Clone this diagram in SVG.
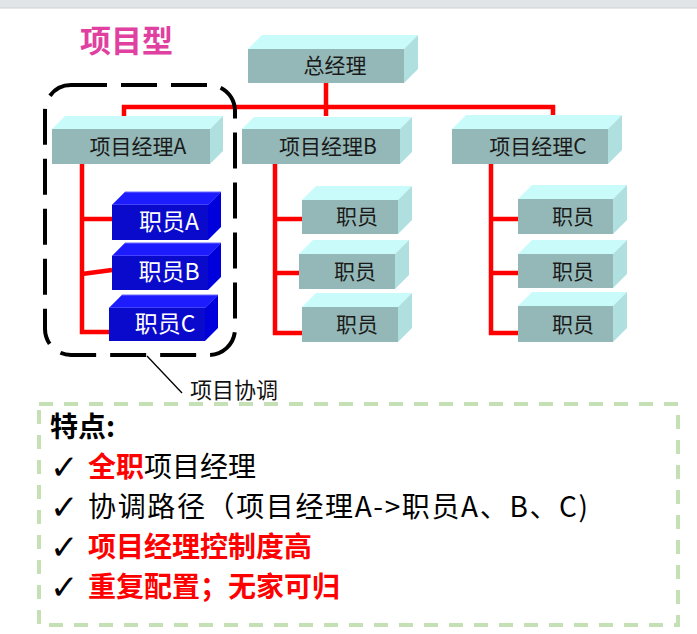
<svg xmlns="http://www.w3.org/2000/svg" width="697" height="634" viewBox="0 0 697 634">
<style>
.gf{fill:#94b8b7}.gt{fill:#c9fbfb}.gs{fill:#afdfdf}
.bf{fill:#0a0acc}.bt{fill:#1c1cff;stroke:#6a6aff;stroke-width:1}.bs{fill:#0000dd}
.bx{font-family:"Noto Sans CJK SC","Liberation Sans",sans-serif;font-size:21px;fill:#1a1a1a;text-anchor:middle}
.wx{font-family:"Noto Sans CJK SC","Liberation Sans",sans-serif;font-size:23px;fill:#ffffff;text-anchor:middle}
.red{fill:none;stroke:#ff0000;stroke-width:4.5;stroke-linejoin:miter}
.ln{font-family:"Noto Sans CJK SC","Liberation Sans",sans-serif;font-size:28px;fill:#000}
.ck{font-family:"DejaVu Sans",sans-serif;font-size:34px;font-weight:bold;fill:#000}
.rb{fill:#ff0000;font-weight:bold}
</style>
<rect x="0" y="0" width="697" height="634" fill="#ffffff"/>
<rect x="0" y="0" width="697" height="8" fill="#e2e5e8"/>
<line x1="0" y1="8" x2="697" y2="8" stroke="#cdd1d5" stroke-width="1"/>

<text x="80" y="52" font-family="Noto Sans CJK SC, sans-serif" font-size="31" font-weight="bold" fill="#e040a0">项目型</text>

<g id="connectors">
<path class="red" d="M326,83 V116"/>
<path class="red" d="M124,116 V107 H553 V116"/>
<path class="red" d="M82,164 V332 H109"/>
<path class="red" d="M80,219 H112"/>
<path class="red" d="M82,274 L112,270"/>
<path class="red" d="M275,164 V333 H302"/>
<path class="red" d="M273,219 H302"/>
<path class="red" d="M273,273 H299"/>
<path class="red" d="M491,164 V333 H518"/>
<path class="red" d="M489,219 H518"/>
<path class="red" d="M489,273 H518"/>
<line x1="147" y1="356" x2="182" y2="393" stroke="#000" stroke-width="1.3"/>
</g>

<g id="gm">
<polygon class="gt" points="248,49 262,35 418,35 404,49"/>
<polygon class="gs" points="404,49 418,35 418,69 404,83"/>
<rect class="gf" x="248" y="49" width="156" height="34"/>
<text class="bx" x="335" y="73" font-size="22">总经理</text>
</g>

<g id="pmA">
<polygon class="gt" points="52,129 65,116 223,116 210,129"/>
<polygon class="gs" points="210,129 223,116 223,151 210,164"/>
<rect class="gf" x="52" y="129" width="158" height="35"/>
<text class="bx" x="138" y="154" font-size="23">项目经理A</text>
</g>
<g id="pmB">
<polygon class="gt" points="242,129 254,117 412,117 400,129"/>
<polygon class="gs" points="400,129 412,117 412,152 400,164"/>
<rect class="gf" x="242" y="129" width="158" height="35"/>
<text class="bx" x="328" y="154" font-size="23">项目经理B</text>
</g>
<g id="pmC">
<polygon class="gt" points="452,129 466,115 622,115 608,129"/>
<polygon class="gs" points="608,129 622,115 622,150 608,164"/>
<rect class="gf" x="452" y="129" width="156" height="35"/>
<text class="bx" x="538" y="154" font-size="23">项目经理C</text>
</g>

<g id="empA">
<polygon class="bt" points="112,205 125,192 221,192 208,205"/>
<polygon class="bs" points="208,205 221,192 221,227 208,240"/>
<rect class="bf" x="112" y="205" width="96" height="35"/>
<text class="wx" x="169" y="230">职员A</text>
</g>
<g id="empB">
<polygon class="bt" points="112,256 125,243 221,243 208,256"/>
<polygon class="bs" points="208,256 221,243 221,277 208,290"/>
<rect class="bf" x="112" y="256" width="96" height="34"/>
<text class="wx" x="169" y="280">职员B</text>
</g>
<g id="empC">
<polygon class="bt" points="109,308 122,295 218,295 205,308"/>
<polygon class="bs" points="205,308 218,295 218,328 205,341"/>
<rect class="bf" x="109" y="308" width="96" height="33"/>
<text class="wx" x="165" y="332">职员C</text>
</g>

<g id="b1">
<polygon class="gt" points="302,200 316,186 412,186 398,200"/>
<polygon class="gs" points="398,200 412,186 412,220 398,234"/>
<rect class="gf" x="302" y="200" width="96" height="34"/>
<text class="bx" x="357" y="224">职员</text>
</g>
<g id="b2">
<polygon class="gt" points="299,254 313,240 409,240 395,254"/>
<polygon class="gs" points="395,254 409,240 409,275 395,289"/>
<rect class="gf" x="299" y="254" width="96" height="35"/>
<text class="bx" x="355" y="279">职员</text>
</g>
<g id="b3">
<polygon class="gt" points="302,307 316,293 412,293 398,307"/>
<polygon class="gs" points="398,307 412,293 412,328 398,342"/>
<rect class="gf" x="302" y="307" width="96" height="35"/>
<text class="bx" x="357" y="332">职员</text>
</g>
<g id="c1">
<polygon class="gt" points="518,199 532,185 627,185 613,199"/>
<polygon class="gs" points="613,199 627,185 627,220 613,234"/>
<rect class="gf" x="518" y="199" width="95" height="35"/>
<text class="bx" x="573" y="224">职员</text>
</g>
<g id="c2">
<polygon class="gt" points="518,254 532,240 627,240 613,254"/>
<polygon class="gs" points="613,254 627,240 627,274 613,288"/>
<rect class="gf" x="518" y="254" width="95" height="34"/>
<text class="bx" x="573" y="279">职员</text>
</g>
<g id="c3">
<polygon class="gt" points="518,306 532,292 627,292 613,306"/>
<polygon class="gs" points="613,306 627,292 627,328 613,342"/>
<rect class="gf" x="518" y="306" width="95" height="36"/>
<text class="bx" x="573" y="332">职员</text>
</g>

<g id="coord">
<rect x="45" y="85" width="190" height="270" rx="26" ry="26" fill="none" stroke="#000" stroke-width="4" stroke-dasharray="36 14"/>
<text x="190" y="398" font-family="Noto Sans CJK SC, sans-serif" font-size="22" fill="#111">项目协调</text>
</g>

<g id="features">
<rect x="39" y="404" width="639" height="221" fill="none" stroke="#c5e0b4" stroke-width="4" stroke-dasharray="14 11"/>
<text x="50" y="437" font-family="Noto Sans CJK SC, sans-serif" font-size="28" font-weight="bold" fill="#000">特点:</text>
<text class="ck" x="50" y="479">✓</text>
<text class="ln" x="88" y="477"><tspan class="rb">全职</tspan>项目经理</text>
<text class="ck" x="50" y="519">✓</text>
<text class="ln" x="88" y="517" textLength="500" lengthAdjust="spacing">协调路径（项目经理A-&gt;职员A、B、C)</text>
<text class="ck" x="50" y="559">✓</text>
<text class="ln rb" x="88" y="557">项目经理控制度高</text>
<text class="ck" x="50" y="599">✓</text>
<text class="ln rb" x="88" y="597">重复配置；无家可归</text>
</g>
</svg>
